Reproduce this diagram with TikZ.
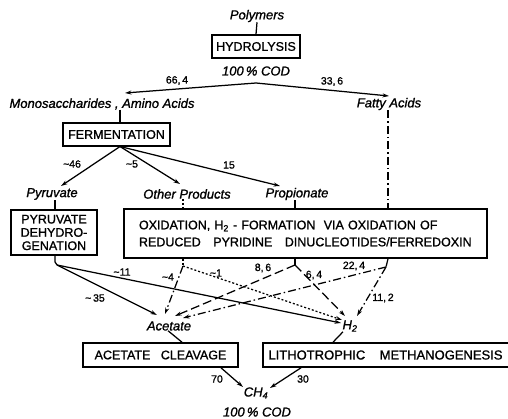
\documentclass[tikz,border=0pt]{standalone}
\usepackage{fontspec}
\setmainfont{Liberation Sans}[FakeBold=1.2]
\usetikzlibrary{arrows.meta}
\begin{document}
\begin{tikzpicture}[x=1pt,y=-1pt,
  box/.style={draw,line width=1.6pt,inner sep=0pt,font=\fontsize{12.5}{13.3}\selectfont},
  lbl/.style={inner sep=0pt,font=\fontsize{13}{14}\selectfont\itshape},
  num/.style={inner sep=0pt,font=\fontsize{10.5}{12}\selectfont},
  con/.style={line width=1.25pt},
  arr/.style={con,-{Stealth[length=6.5pt,width=4pt]}},
  longdash/.style={dash pattern=on 9pt off 4pt},
  dashdot/.style={dash pattern=on 8pt off 3pt on 1.5pt off 3pt},
  dots/.style={dash pattern=on 2pt off 2pt}]
\useasboundingbox (0,0) rectangle (508,419);
% top
\node[lbl] (poly) at (257,16) {Polymers};
\node[box,minimum width=88pt,minimum height=23pt] (hyd) at (256,46.5) {HYDROLYSIS};
\node[lbl] (cod1) at (256,71) {100\,\% COD};
\coordinate (b1) at (256,83);
\node[lbl] (mono) at (102,104) {Monosaccharides , Amino Acids};
\node[lbl] (fatty) at (389,104) {Fatty Acids};
\coordinate (mt) at (125,93);
\coordinate (ft) at (389,96);
\draw[con] (poly.south) -- (hyd.north);
\draw[arr] (b1) -- (mt);
\draw[arr] (b1) -- (ft);
\node[num] (n664) at (177,80.5) {66,\,4};
\node[num] (n336) at (332,81.5) {33,\,6};
% fermentation
\node[box,minimum width=107pt,minimum height=23pt] (ferm) at (116.5,134.5) {FERMENTATION};
\draw[con] (mono.south -| 120,0) -- (ferm.north -| 120,0);
\coordinate (f0) at (120,146.5);
\node[lbl] (pyr) at (52,194) {Pyruvate};
\node[lbl] (oth) at (187,194) {Other Products};
\node[lbl] (prop) at (297,194) {Propionate};
\coordinate (pt) at (61,186);
\coordinate (ot) at (180,184);
\coordinate (rt) at (280,186);
\draw[arr] (f0) -- (pt);
\draw[arr] (f0) -- (ot);
\draw[arr] (f0) -- (rt);
\node[num] (n46) at (72,164) {\textasciitilde 46};
\node[num] (n5) at (132,164) {\textasciitilde 5};
\node[num] (n15) at (229,165) {15};
% boxes middle
\node[box,minimum width=86pt,minimum height=45pt,align=center] (pbox) at (54,232.5) {PYRUVATE\\DEHYDRO-\\GENATION};
\node[box,minimum width=363pt,minimum height=49pt,text width=333pt,inner xsep=15pt,align=left,font=\fontsize{12.5}{17}\selectfont] (obox) at (305.5,233.5)
  {OXIDATION, H\textsubscript{2} - FORMATION\ \ VIA OXIDATION OF\\REDUCED\ \ \ PYRIDINE\ \ \ DINUCLEOTIDES/FERREDOXIN};
\draw[con] (pyr.south -| 55,0) -- (pbox.north -| 55,0);
\draw[con,dots] (oth.south -| 183,0) -- (obox.north -| 183,0);
\draw[con] (prop.south -| 295,0) -- (obox.north -| 295,0);
\draw[con,dashdot] (fatty.south -| 388,0) -- (obox.north -| 388,0);
% split points
\coordinate (p1) at (57,265);
\coordinate (o1) at (183,266);
\coordinate (r1) at (295,265);
\coordinate (t1) at (386,267);
\draw[con] (pbox.south -| 55,0) -- (55,262) -- (p1);
\draw[con,dots] (obox.south -| 183,0) -- (o1);
\draw[con] (obox.south -| 295,0) -- (r1);
\draw[con,dashdot] (obox.south -| 388,0) -- (t1);
% lower labels
\node[lbl] (ace) at (169,326) {Acetate};
\node[lbl] (h2) at (350,326) {H\textsubscript{2}};
\coordinate (a1) at (157,315);
\coordinate (a2) at (165,314);
\coordinate (a3) at (175,316);
\coordinate (a4) at (183,318);
\coordinate (h1) at (341,323);
\coordinate (h2a) at (342,320);
\coordinate (h3) at (345,316);
\coordinate (h4) at (357,316);
\draw[arr] (p1) -- (a1);
\draw[arr] (p1) -- (h1);
\draw[arr,dashdot] (o1) -- (a2);
\draw[arr,dots] (o1) -- (h2a);
\draw[arr,longdash] (r1) -- (a3);
\draw[arr,longdash] (r1) -- (h3);
\draw[arr,dashdot] (t1) -- (a4);
\draw[arr,dashdot] (t1) -- (h4);
\node[num] (n35) at (95,298) {\textasciitilde\,35};
\node[num] (n11) at (122,272) {\textasciitilde 11};
\node[num] (n4) at (168,277) {\textasciitilde 4};
\node[num] (n1) at (216,273) {\textasciitilde 1};
\node[num] (n86) at (263,268) {8,\,6};
\node[num] (n64) at (314,275) {6,\,4};
\node[num] (n224) at (354,266) {22,\,4};
\node[num] (n112) at (383,298) {11,\,2};
% bottom boxes
\node[box,minimum width=155pt,minimum height=24pt] (acb) at (160.5,355) {ACETATE\ \ \ CLEAVAGE};
\node[box,minimum width=252pt,minimum height=24pt,font=\fontsize{13}{14}\selectfont] (lib) at (389,355) {LITHOTROPHIC\ \ \ \ METHANOGENESIS\hspace*{7pt}};
\draw[con] (ace.south) ++(-1,0) -- (acb.north -| 182,0);
\draw[con] (h2.south) ++(-7,0) -- (lib.north -| 333,0);
\node[lbl] (ch4) at (256,393) {CH\textsubscript{4}};
\node[lbl] (cod2) at (257,412) {100\,\% COD};
\coordinate (c1) at (243,387);
\coordinate (c2) at (270,388);
\draw[arr] (acb.south -| 221,0) -- (c1);
\draw[arr] (lib.south -| 301,0) -- (c2);
\node[num] (n70) at (217,379) {70};
\node[num] (n30) at (303,379) {30};
\end{tikzpicture}
\end{document}
